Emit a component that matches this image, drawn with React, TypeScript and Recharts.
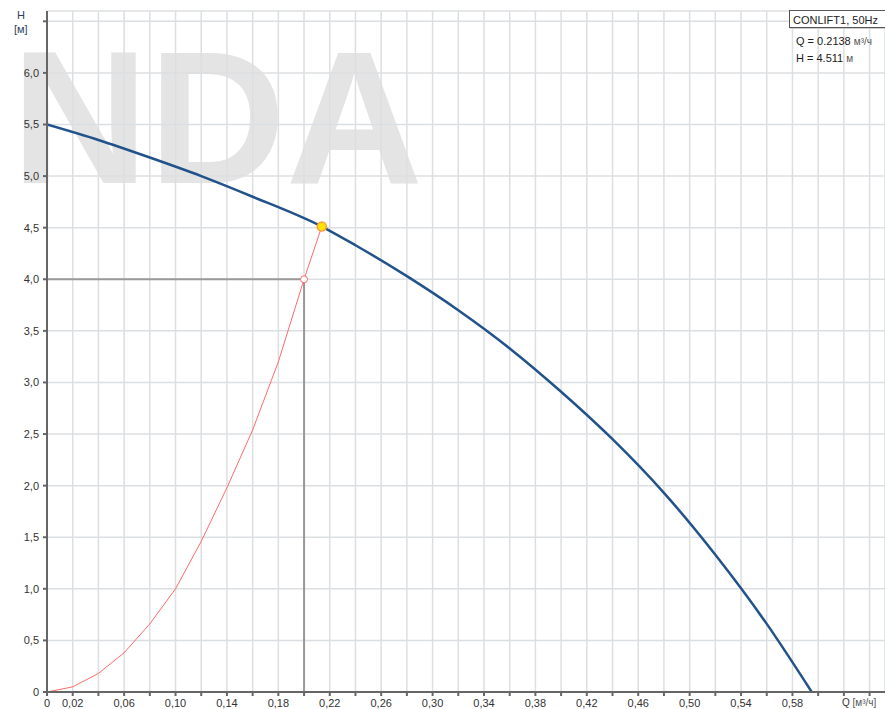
import { ComposedChart, Line, XAxis, YAxis, CartesianGrid, ReferenceLine, ReferenceDot } from 'recharts'

// Кривая насоса (Q, м³/ч — H, м)
const pumpQ = [0, 0.04, 0.08, 0.12, 0.16, 0.2138, 0.24, 0.28, 0.32, 0.36, 0.4, 0.44, 0.48, 0.52, 0.56, 0.595]
const pumpH = [5.5, 5.35, 5.18, 5.0, 4.8, 4.511, 4.33, 4.03, 3.7, 3.33, 2.91, 2.45, 1.93, 1.33, 0.66, 0]

// Характеристика системы
const systemQ = [0, 0.02, 0.04, 0.06, 0.08, 0.1, 0.12, 0.14, 0.16, 0.18, 0.2, 0.2138]
const systemH = [0, 0.05, 0.18, 0.38, 0.66, 1.0, 1.46, 1.98, 2.54, 3.2, 4.0, 4.511]

// рабочая точка и заданная точка
const dutyQ = 0.2
const dutyH = 4.0
const opQ = 0.2138
const opH = 4.511

const xTicks = [0, 0.02, 0.04, 0.06, 0.08, 0.1, 0.12, 0.14, 0.16, 0.18, 0.2, 0.22, 0.24, 0.26, 0.28, 0.3, 0.32,
  0.34, 0.36, 0.38, 0.4, 0.42, 0.44, 0.46, 0.48, 0.5, 0.52, 0.54, 0.56, 0.58, 0.6, 0.62, 0.64]
const xLabels = ['0', '0,02', '0,06', '0,10', '0,14', '0,18', '0,22', '0,26', '0,30', '0,34', '0,38', '0,42',
  '0,46', '0,50', '0,54', '0,58']
const yTicks = [0, 0.5, 1, 1.5, 2, 2.5, 3, 3.5, 4, 4.5, 5, 5.5, 6, 6.5]
const yLabels = ['0', '0,5', '1,0', '1,5', '2,0', '2,5', '3,0', '3,5', '4,0', '4,5', '5,0', '5,5', '6,0']

const pumpData = pumpQ.map((q, i) => ({ q, h: pumpH[i] }))
const systemData = systemQ.map((q, i) => ({ q, h: systemH[i] }))

const FONT = '"Liberation Sans", Arial, sans-serif'
const tickStyle = { fontSize: 11, fill: '#333', fontFamily: FONT }

function fmtX(v: number) {
  const s = v === 0 ? '0' : v.toFixed(2).replace('.', ',')
  return xLabels.includes(s) ? s : ''
}
function fmtY(v: number) {
  const s = v === 0 ? '0' : v.toFixed(1).replace('.', ',')
  return yLabels.includes(s) ? s : ''
}

export default function App() {
  return (
    <div style={{ position: 'absolute', left: 0, top: 0, width: 885, height: 709, background: '#fff', overflow: 'hidden', fontFamily: FONT }}>
      {/* водяной знак за сеткой */}
      <svg width={885} height={709} style={{ position: 'absolute', left: 0, top: 0 }}>
        <text x={-126} y={183} fontFamily={FONT} fontWeight="bold" fontSize={190} fill="#e4e4e4">
          UNDA
        </text>
      </svg>
      <div style={{ position: 'absolute', left: 0, top: 0 }}>
        <ComposedChart width={885} height={709} margin={{ top: 11, right: 0, bottom: 0, left: 0 }}>
          <CartesianGrid stroke="#dcdfe2" strokeWidth={1.5} />
          <XAxis
            type="number"
            dataKey="q"
            domain={[0, 0.652]}
            ticks={xTicks}
            interval={0}
            tickFormatter={fmtX}
            tick={tickStyle}
            tickSize={4}
            tickMargin={3}
            height={17}
            allowDataOverflow
            stroke="#666"
            strokeWidth={2}
          />
          <YAxis
            type="number"
            dataKey="h"
            domain={[0, 6.6]}
            ticks={yTicks}
            interval={0}
            tickFormatter={fmtY}
            tick={tickStyle}
            tickSize={4}
            tickMargin={4}
            width={47}
            allowDataOverflow
            stroke="#666"
            strokeWidth={2}
          />
          <ReferenceLine segment={[{ x: 0, y: dutyH }, { x: dutyQ, y: dutyH }]} stroke="#999" strokeWidth={2} />
          <ReferenceLine segment={[{ x: dutyQ, y: 0 }, { x: dutyQ, y: dutyH }]} stroke="#999" strokeWidth={2} />
          <Line
            data={systemData}
            dataKey="h"
            type="linear"
            stroke="#ff6b6b"
            strokeWidth={1}
            dot={false}
            isAnimationActive={false}
          />
          <Line
            data={pumpData}
            dataKey="h"
            type="monotone"
            stroke="#22528a"
            strokeWidth={2.5}
            dot={false}
            isAnimationActive={false}
          />
          <ReferenceDot x={dutyQ} y={dutyH} r={3.5} fill="#fff" stroke="#ff6b6b" strokeWidth={1} />
          <ReferenceDot x={opQ} y={opH} r={4.5} fill="#ffe600" stroke="#ff9a3c" strokeWidth={1.5} />
        </ComposedChart>
      </div>
      <div style={{ position: 'absolute', left: 17, top: 9, fontSize: 11, color: '#2b3f5c' }}>H</div>
      <div style={{ position: 'absolute', left: 14, top: 23, fontSize: 11, color: '#2b3f5c' }}>[м]</div>
      <div style={{ position: 'absolute', left: 842, top: 697, fontSize: 10, color: '#333' }}>
        Q <span style={{ color: '#555' }}>[м³/ч]</span>
      </div>
      <div
        style={{
          position: 'absolute',
          left: 789,
          top: 10,
          width: 100,
          height: 18,
          border: '1px solid #555',
          background: '#fff',
          fontSize: 11,
          color: '#222',
          lineHeight: '18px',
          paddingLeft: 3,
          boxSizing: 'border-box',
          boxShadow: '1px 1px 0 #ccc',
        }}
      >
        CONLIFT1, 50Hz
      </div>
      <div style={{ position: 'absolute', left: 796, top: 33, fontSize: 11, color: '#222', lineHeight: '16px' }}>
        Q = 0.2138 <span style={{ fontSize: 10, color: '#555' }}>м³/ч</span>
        <br />
        H = 4.511 <span style={{ fontSize: 10, color: '#555' }}>м</span>
      </div>
    </div>
  )
}
